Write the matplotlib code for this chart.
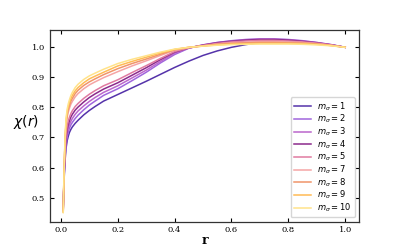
import matplotlib
matplotlib.use("Agg")
import matplotlib.pyplot as plt

r = [0.008, 0.01, 0.012, 0.015, 0.018, 0.022, 0.026, 0.03, 0.035, 0.04, 0.05, 0.06,
     0.08, 0.1, 0.12, 0.15, 0.2, 0.25, 0.3, 0.35, 0.4, 0.45, 0.5, 0.55, 0.6, 0.65,
     0.7, 0.75, 0.8, 0.85, 0.9, 0.95, 1.0]

chi_m1 = [0.470, 0.530, 0.580, 0.630, 0.665, 0.690, 0.705, 0.717, 0.727, 0.735, 0.747, 0.757,
          0.775, 0.790, 0.803, 0.821, 0.843, 0.865, 0.887, 0.910, 0.933, 0.954, 0.973, 0.988,
          1.000, 1.009, 1.016, 1.020, 1.021, 1.019, 1.014, 1.008, 1.0]
chi_m2 = [0.465, 0.533, 0.587, 0.641, 0.678, 0.704, 0.719, 0.731, 0.742, 0.750, 0.763, 0.774,
          0.792, 0.808, 0.821, 0.840, 0.862, 0.889, 0.917, 0.948, 0.976, 0.997, 1.008, 1.016,
          1.022, 1.026, 1.028, 1.028, 1.026, 1.022, 1.016, 1.009, 1.0]
chi_m3 = [0.462, 0.535, 0.592, 0.650, 0.689, 0.715, 0.731, 0.743, 0.754, 0.763, 0.777, 0.788,
          0.805, 0.820, 0.833, 0.850, 0.872, 0.898, 0.924, 0.953, 0.980, 0.998, 1.008, 1.016,
          1.021, 1.025, 1.027, 1.027, 1.025, 1.021, 1.016, 1.009, 1.0]
chi_m4 = [0.460, 0.537, 0.598, 0.661, 0.701, 0.728, 0.744, 0.756, 0.768, 0.777, 0.791, 0.801,
          0.818, 0.833, 0.845, 0.861, 0.882, 0.907, 0.932, 0.959, 0.984, 0.998, 1.007, 1.015,
          1.020, 1.024, 1.026, 1.026, 1.024, 1.020, 1.015, 1.008, 1.0]
chi_m5 = [0.458, 0.539, 0.604, 0.670, 0.712, 0.739, 0.756, 0.768, 0.780, 0.789, 0.803, 0.813,
          0.830, 0.844, 0.856, 0.872, 0.892, 0.916, 0.939, 0.963, 0.986, 0.998, 1.006, 1.013,
          1.018, 1.021, 1.023, 1.023, 1.021, 1.018, 1.014, 1.008, 1.0]
chi_m7 = [0.455, 0.545, 0.617, 0.693, 0.739, 0.768, 0.785, 0.798, 0.811, 0.820, 0.835, 0.846,
          0.862, 0.875, 0.885, 0.899, 0.919, 0.938, 0.955, 0.973, 0.990, 0.999, 1.005, 1.011,
          1.015, 1.017, 1.019, 1.019, 1.018, 1.016, 1.012, 1.007, 1.0]
chi_m8 = [0.453, 0.547, 0.622, 0.701, 0.748, 0.777, 0.795, 0.807, 0.821, 0.830, 0.846, 0.857,
          0.873, 0.885, 0.895, 0.909, 0.929, 0.946, 0.961, 0.977, 0.992, 1.000, 1.005, 1.010,
          1.013, 1.015, 1.016, 1.016, 1.015, 1.014, 1.011, 1.006, 1.0]
chi_m9 = [0.451, 0.548, 0.626, 0.707, 0.756, 0.786, 0.803, 0.816, 0.830, 0.840, 0.855, 0.866,
          0.882, 0.895, 0.904, 0.917, 0.938, 0.953, 0.967, 0.981, 0.993, 1.000, 1.004, 1.008,
          1.011, 1.012, 1.013, 1.013, 1.013, 1.012, 1.010, 1.006, 1.0]
chi_m10 = [0.450, 0.550, 0.630, 0.715, 0.765, 0.795, 0.813, 0.826, 0.840, 0.850, 0.866, 0.877,
           0.893, 0.905, 0.914, 0.927, 0.946, 0.960, 0.972, 0.984, 0.994, 1.000, 1.004, 1.007,
           1.009, 1.010, 1.011, 1.011, 1.011, 1.010, 1.008, 1.005, 1.0]

m_values = [1, 2, 3, 4, 5, 7, 8, 9, 10]
series = [chi_m1, chi_m2, chi_m3, chi_m4, chi_m5, chi_m7, chi_m8, chi_m9, chi_m10]
colors = ['#5533aa', '#a066dd', '#bb66cc', '#8b2a8b', '#e07aa0',
          '#f5a5a5', '#f0956a', '#ffbb55', '#ffe38a']

plt.rcParams['font.family'] = 'DejaVu Serif'
plt.rcParams['mathtext.fontset'] = 'dejavusans'

fig = plt.figure(figsize=(3.99, 2.49), dpi=100)
ax = fig.add_subplot(111)
for m, y, c in zip(m_values, series, colors):
    ax.plot(r, y, color=c, lw=1.1, label=r'$m_\sigma = %d$' % m)

ax.set_xlim(-0.039, 1.049)
ax.set_ylim(0.42, 1.058)
ax.set_xticks([0.0, 0.2, 0.4, 0.6, 0.8, 1.0])
ax.set_yticks([0.5, 0.6, 0.7, 0.8, 0.9, 1.0])
ax.tick_params(direction='in', top=True, right=True, labelsize=6, length=3, width=0.8)
for s in ax.spines.values():
    s.set_linewidth(0.9)
    s.set_color('#333333')
ax.set_xlabel('r', fontsize=9, fontweight='bold')
ax.xaxis.set_label_coords(0.5, -0.065)
ax.set_ylabel(r'$\chi(r)$', fontsize=10, rotation=0, ha='center', va='center')
ax.yaxis.set_label_coords(-0.076, 0.52)
ax.legend(loc='lower right', fontsize=6, handlelength=2.0, labelspacing=0.02,
          borderaxespad=0.5, framealpha=0.8)
fig.subplots_adjust(left=0.125, right=0.9, top=0.88, bottom=0.11)
fig.savefig('out.png', dpi=100)
